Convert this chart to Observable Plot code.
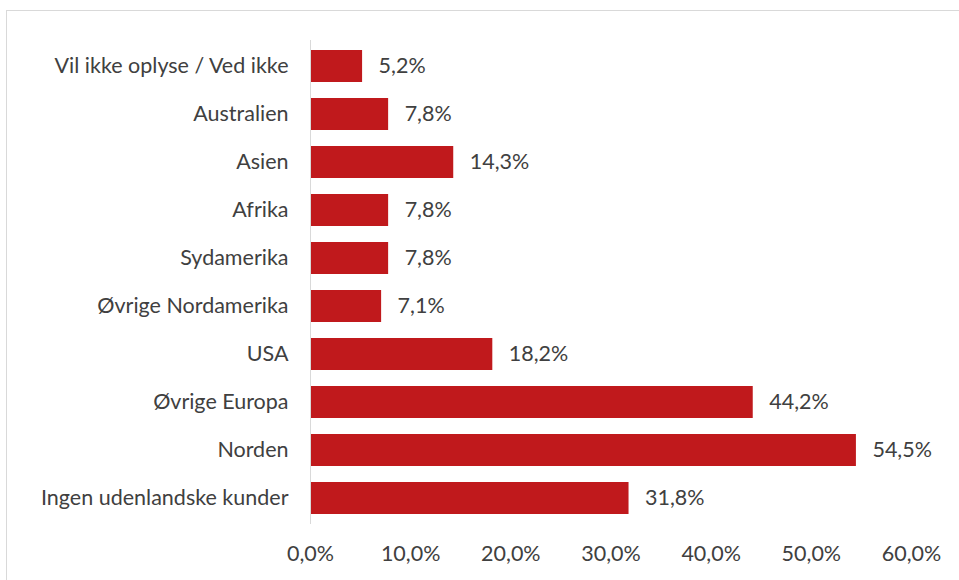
<!DOCTYPE html>
<html>
<head>
<meta charset="utf-8">
<script src="https://cdn.jsdelivr.net/npm/d3@7"></script>
<script src="https://cdn.jsdelivr.net/npm/@observablehq/plot@0.6"></script>
<style>
  html, body { margin: 0; padding: 0; background: #fff; }
  #wrap { position: relative; width: 959px; height: 580px; overflow: hidden; }
  #border { position: absolute; left: 6px; top: 10px; width: 1000px; height: 1000px; border: 1px solid #d9d9d9; box-sizing: border-box; }
  #chart { position: absolute; left: 0; top: 0; }
</style>
</head>
<body>
<div id="wrap"><div id="border"></div><div id="chart"></div></div>
<script>
const categories = [
  "Vil ikke oplyse / Ved ikke",
  "Australien",
  "Asien",
  "Afrika",
  "Sydamerika",
  "Øvrige Nordamerika",
  "USA",
  "Øvrige Europa",
  "Norden",
  "Ingen udenlandske kunder"
];
const values = [5.2, 7.8, 14.3, 7.8, 7.8, 7.1, 18.2, 44.2, 54.5, 31.8];
const xTicks = [0, 10, 20, 30, 40, 50, 60];

const data = categories.map((c, i) => ({category: c, value: values[i]}));
const fmt = v => v.toFixed(1).replace(".", ",") + "%";
const FS = 21.5;

const chart = Plot.plot({
  width: 959,
  height: 580,
  marginLeft: 310,
  marginRight: 48,
  marginTop: 40,
  marginBottom: 56,
  style: {fontFamily: "Lato, 'Open Sans', sans-serif", fontSize: FS + "px", color: "#404040", background: "transparent"},
  x: {domain: [0, 60], ticks: xTicks, tickFormat: fmt, label: null},
  y: {domain: categories, paddingInner: 0.34, paddingOuter: 0.17, label: null},
  marks: [
    Plot.barX(data, {x: "value", y: "category", fill: "#C0191C"}),
    Plot.ruleX([0], {stroke: "#d9d9d9", strokeWidth: 1}),
    Plot.text(data, {x: "value", y: "category", text: d => fmt(d.value), textAnchor: "start", dx: 16, fill: "#404040", fontSize: FS}),
    Plot.axisX({ticks: xTicks, tickFormat: fmt, tickSize: 0, tickPadding: 21, label: null, fontSize: FS, fill: "#404040"}),
    Plot.axisY({tickSize: 0, tickPadding: 22, label: null, fontSize: FS, fill: "#404040"})
  ]
});
document.getElementById("chart").appendChild(chart);
</script>
</body>
</html>
